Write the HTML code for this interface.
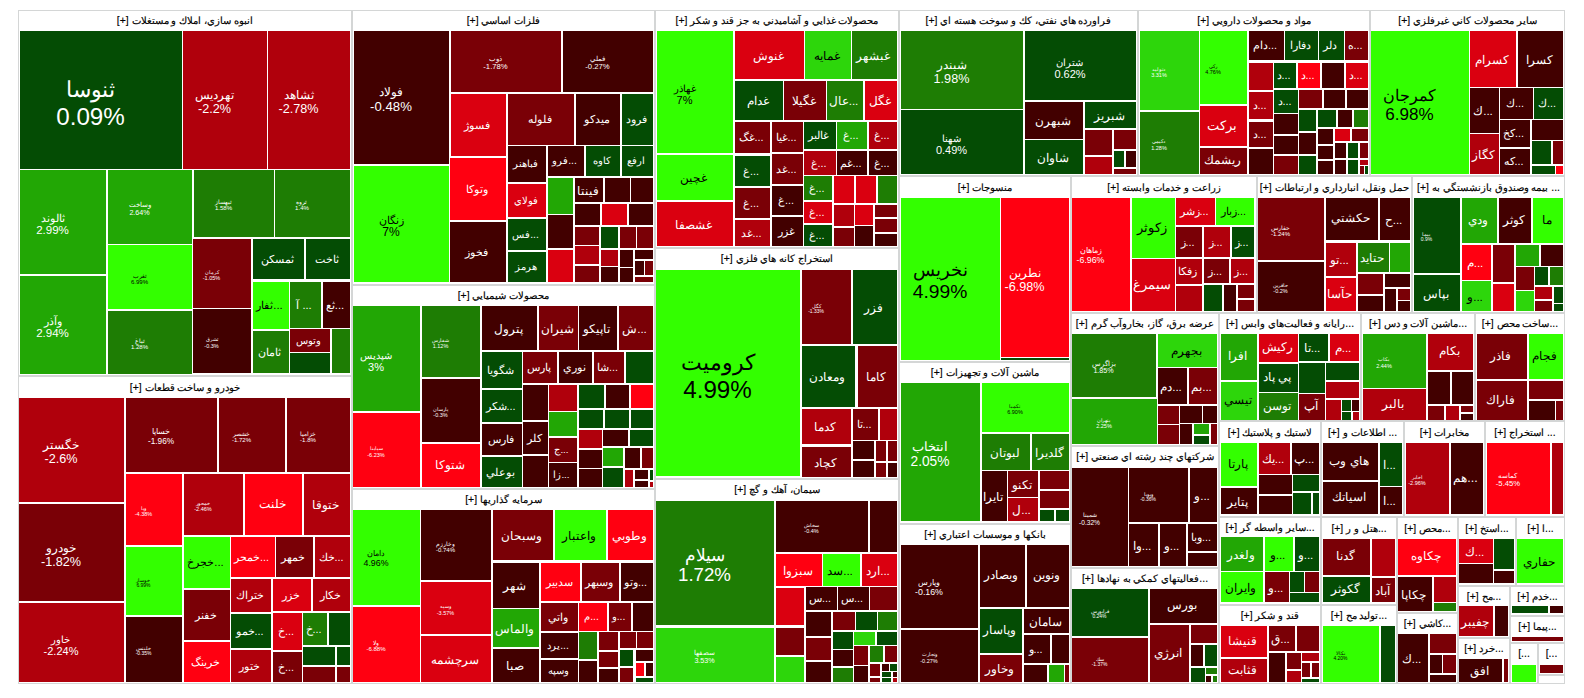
<!DOCTYPE html>
<html><head><meta charset="utf-8">
<style>
html,body{margin:0;padding:0;background:#fff;width:1584px;height:698px;overflow:hidden;}
body{position:relative;font-family:"Liberation Sans",sans-serif;}
.s{position:absolute;box-sizing:border-box;border:1px solid #d4d6d6;background:#fff;}
.h{position:absolute;left:0;right:0;top:0;display:flex;align-items:center;justify-content:center;white-space:nowrap;color:#000;-webkit-text-stroke:0.15px #000;padding-bottom:2px;box-sizing:border-box;font-size:10.4px;overflow:hidden;}
.t{position:absolute;overflow:hidden;display:flex;align-items:center;justify-content:center;color:#fff;}
.l{white-space:nowrap;text-align:center;line-height:1.12;}
.k{color:#000;}
</style></head><body>

<div class="s" style="left:18px;top:10px;width:334px;height:366px"><div class="h" style="height:20px">[+] انبوه سازي، املاك و مستغلات</div></div>
<div class="s" style="left:18px;top:376px;width:334px;height:308px"><div class="h" style="height:21px">[+] خودرو و ساخت قطعات</div></div>
<div class="s" style="left:352px;top:10px;width:303px;height:275px"><div class="h" style="height:20px">[+] فلزات اساسي</div></div>
<div class="s" style="left:352px;top:285px;width:303px;height:204px"><div class="h" style="height:20px">[+] محصولات شيميايي</div></div>
<div class="s" style="left:352px;top:489px;width:303px;height:195px"><div class="h" style="height:20px">[+] سرمايه گذاريها</div></div>
<div class="s" style="left:655px;top:10px;width:244px;height:238px"><div class="h" style="height:20px">[+] محصولات غذايي و آشاميدني به جز قند و شكر</div></div>
<div class="s" style="left:655px;top:248px;width:244px;height:231px"><div class="h" style="height:20px">[+] استخراج كانه هاي فلزي</div></div>
<div class="s" style="left:655px;top:479px;width:244px;height:205px"><div class="h" style="height:20px">[+] سيمان، آهك و گچ</div></div>
<div class="s" style="left:899px;top:10px;width:239px;height:166px"><div class="h" style="height:20px">[+] فراورده هاي نفتي، كك و سوخت هسته اي</div></div>
<div class="s" style="left:1138px;top:10px;width:232px;height:166px"><div class="h" style="height:20px">[+] مواد و محصولات دارويي</div></div>
<div class="s" style="left:1370px;top:10px;width:195px;height:166px"><div class="h" style="height:20px">[+] ساير محصولات كاني غيرفلزي</div></div>
<div class="s" style="left:899px;top:176px;width:172px;height:186px"><div class="h" style="height:21px">[+] منسوجات</div></div>
<div class="s" style="left:1071px;top:176px;width:186px;height:137px"><div class="h" style="height:21px">[+] زراعت و خدمات وابسته</div></div>
<div class="s" style="left:1257px;top:176px;width:155px;height:137px"><div class="h" style="height:21px">[+] حمل ونقل، انبارداري و ارتباطات</div></div>
<div class="s" style="left:1412px;top:176px;width:153px;height:137px"><div class="h" style="height:21px">[+] بيمه وصندوق بازنشستگي به ...</div></div>
<div class="s" style="left:899px;top:362px;width:172px;height:162px"><div class="h" style="height:20px">[+] ماشين آلات و تجهيزات</div></div>
<div class="s" style="left:899px;top:524px;width:172px;height:160px"><div class="h" style="height:20px">[+] بانكها و موسسات اعتباري</div></div>
<div class="s" style="left:1071px;top:313px;width:148px;height:133px"><div class="h" style="height:20px">[+] عرضه برق، گاز، بخاروآب گرم</div></div>
<div class="s" style="left:1071px;top:446px;width:148px;height:122px"><div class="h" style="height:20px">[+] شركتهاي چند رشته اي صنعتي</div></div>
<div class="s" style="left:1071px;top:568px;width:148px;height:116px"><div class="h" style="height:20px">[+] فعاليتهاي كمكي به نهادها...</div></div>
<div class="s" style="left:1219px;top:313px;width:142px;height:108px"><div class="h" style="height:20px">[+] رايانه و فعاليت‌هاي وابس...</div></div>
<div class="s" style="left:1361px;top:313px;width:114px;height:108px"><div class="h" style="height:20px">[+] ماشين آلات و دس...</div></div>
<div class="s" style="left:1475px;top:313px;width:90px;height:108px"><div class="h" style="height:20px">[+] ساخت محص...</div></div>
<div class="s" style="left:1219px;top:421px;width:102px;height:96px"><div class="h" style="height:21px">[+] لاستيك و پلاستيك</div></div>
<div class="s" style="left:1321px;top:421px;width:83px;height:96px"><div class="h" style="height:21px">[+] اطلاعات و ...</div></div>
<div class="s" style="left:1404px;top:421px;width:81px;height:96px"><div class="h" style="height:21px">[+] مخابرات</div></div>
<div class="s" style="left:1485px;top:421px;width:80px;height:96px"><div class="h" style="height:21px">[+] استخراج ...</div></div>
<div class="s" style="left:1219px;top:517px;width:102px;height:88px"><div class="h" style="height:19px">[+] ساير واسطه گر...</div></div>
<div class="s" style="left:1321px;top:517px;width:76px;height:88px"><div class="h" style="height:21px">[+] هتل و ر...</div></div>
<div class="s" style="left:1219px;top:605px;width:102px;height:79px"><div class="h" style="height:19px">[+] قند و شكر</div></div>
<div class="s" style="left:1321px;top:605px;width:76px;height:79px"><div class="h" style="height:20px">[+] توليد مح...</div></div>
<div class="s" style="left:1397px;top:517px;width:61px;height:96px"><div class="h" style="height:21px">[+] محص...</div></div>
<div class="s" style="left:1397px;top:613px;width:61px;height:71px"><div class="h" style="height:20px">[+] كاشي...</div></div>
<div class="s" style="left:1458px;top:517px;width:58px;height:69px"><div class="h" style="height:21px">[+] استخ...</div></div>
<div class="s" style="left:1516px;top:517px;width:49px;height:69px"><div class="h" style="height:21px">[+] ا...</div></div>
<div class="s" style="left:1458px;top:586px;width:52px;height:52px"><div class="h" style="height:19px">[+] مح...</div></div>
<div class="s" style="left:1510px;top:586px;width:55px;height:30px"><div class="h" style="height:19px">[+] خدم...</div></div>
<div class="s" style="left:1510px;top:616px;width:55px;height:27px"><div class="h" style="height:20px">[+] پيما...</div></div>
<div class="s" style="left:1458px;top:638px;width:52px;height:46px"><div class="h" style="height:20px">[+] خرد...</div></div>
<div class="s" style="left:1510px;top:643px;width:28px;height:41px"><div class="h" style="height:20px">[...</div></div>
<div class="s" style="left:1538px;top:643px;width:27px;height:32px"><div class="h" style="height:20px">[...</div></div>
<div class="s" style="left:1538px;top:675px;width:27px;height:9px"><div class="h" style="height:7px"></div></div>
<div class="t" style="left:20px;top:31px;width:162px;height:138px;background:#044c04"><div class="l" style="font-size:22px;transform:translate(-10.5px,3.7px)"><div>ثنوسا</div><div style="font-size:24.2px">0.09%</div></div></div>
<div class="t" style="left:183px;top:31px;width:84px;height:138px;background:#b0000c"><div class="l" style="font-size:11.5px;transform:translate(-10.5px,2.65px)"><div>تهرديس</div><div style="font-size:12.65px">-2.2%</div></div></div>
<div class="t" style="left:268px;top:31px;width:82px;height:138px;background:#b0000c"><div class="l" style="font-size:11.5px;transform:translate(-10.5px,2.65px)"><div>ثشاهد</div><div style="font-size:12.65px">-2.78%</div></div></div>
<div class="t" style="left:20px;top:170px;width:86px;height:104px;background:#22a705"><div class="l" style="font-size:10.5px;transform:translate(-10.5px,2.55px)"><div>ثالوند</div><div style="font-size:11.55px">2.99%</div></div></div>
<div class="t" style="left:20px;top:276px;width:86px;height:98px;background:#22a705"><div class="l" style="font-size:10.5px;transform:translate(-10.5px,2.55px)"><div>وآذر</div><div style="font-size:11.55px">2.94%</div></div></div>
<div class="t" style="left:108px;top:170px;width:84px;height:74px;background:#22a705"><div class="l" style="font-size:6.5px;transform:translate(-10.5px,2.15px)"><div>وساخت</div><div style="font-size:7.15px">2.64%</div></div></div>
<div class="t k" style="left:108px;top:245px;width:84px;height:64px;background:#33ff00"><div class="l" style="font-size:5.5px;transform:translate(-10.5px,2.05px)"><div>ثغرب</div><div style="font-size:6.05px">6.99%</div></div></div>
<div class="t" style="left:108px;top:311px;width:84px;height:63px;background:#1e7d04"><div class="l" style="font-size:5.5px;transform:translate(-10.5px,2.05px)"><div>ثباغ</div><div style="font-size:6.05px">1.28%</div></div></div>
<div class="t" style="left:194px;top:170px;width:80px;height:67px;background:#1e7d04"><div class="l" style="font-size:5.5px;transform:translate(-10.5px,2.05px)"><div>ثبهساز</div><div style="font-size:6.05px">1.58%</div></div></div>
<div class="t" style="left:275px;top:170px;width:75px;height:67px;background:#1e7d04"><div class="l" style="font-size:5.5px;transform:translate(-10.5px,2.05px)"><div>ثروه</div><div style="font-size:6.05px">1.4%</div></div></div>
<div class="t" style="left:193px;top:239px;width:58px;height:69px;background:#7a0006"><div class="l" style="font-size:5px;transform:translate(-10.5px,2.0px)"><div>كرمان</div><div style="font-size:5.5px">-1.05%</div></div></div>
<div class="t" style="left:193px;top:309px;width:58px;height:64px;background:#420000"><div class="l" style="font-size:5px;transform:translate(-10.5px,2.0px)"><div>ثشرق</div><div style="font-size:5.5px">-0.3%</div></div></div>
<div class="t" style="left:253px;top:239px;width:51px;height:40px;background:#044c04"><div class="l" style="font-size:11.18px;transform:translateX(-1.5px)">ثمسكن</div></div>
<div class="t" style="left:306px;top:239px;width:44px;height:40px;background:#044c04"><div class="l" style="font-size:11.18px;transform:translateX(-1.5px)">ثاخت</div></div>
<div class="t k" style="left:253px;top:282px;width:36px;height:47px;background:#33ff00"><div class="l" style="font-size:11.18px;transform:translateX(-1.5px)">ثفار...</div></div>
<div class="t" style="left:290px;top:282px;width:31px;height:46px;background:#1e7d04"><div class="l" style="font-size:11.18px;transform:translateX(-1.5px)">آ ...</div></div>
<div class="t" style="left:323px;top:282px;width:27px;height:46px;background:#420000"><div class="l" style="font-size:11.18px;transform:translateX(-1.5px)">ثع...</div></div>
<div class="t" style="left:253px;top:331px;width:36px;height:42px;background:#1e7d04"><div class="l" style="font-size:11.18px;transform:translateX(-1.5px)">ثامان</div></div>
<div class="t" style="left:290px;top:329px;width:40px;height:23px;background:#7a0006"><div class="l" style="font-size:10.32px;transform:translateX(-1.5px)">وتوس</div></div>
<div class="t" style="left:290px;top:353px;width:40px;height:20px;background:#044c04"></div>
<div class="t" style="left:332px;top:329px;width:18px;height:44px;background:#1e7d04"></div>
<div class="t" style="left:19px;top:398px;width:105px;height:104px;background:#b0000c"><div class="l" style="font-size:11.5px;transform:translate(-10.5px,2.65px)"><div>خگستر</div><div style="font-size:12.65px">-2.6%</div></div></div>
<div class="t" style="left:19px;top:504px;width:105px;height:97px;background:#7a0006"><div class="l" style="font-size:11.5px;transform:translate(-10.5px,2.65px)"><div>خودرو</div><div style="font-size:12.65px">-1.82%</div></div></div>
<div class="t" style="left:19px;top:603px;width:105px;height:79px;background:#b0000c"><div class="l" style="font-size:10px;transform:translate(-10.5px,2.5px)"><div>خاور</div><div style="font-size:11.0px">-2.24%</div></div></div>
<div class="t" style="left:126px;top:398px;width:91px;height:74px;background:#7a0006"><div class="l" style="font-size:7.5px;transform:translate(-10.5px,2.25px)"><div>خساپا</div><div style="font-size:8.25px">-1.96%</div></div></div>
<div class="t" style="left:219px;top:398px;width:66px;height:74px;background:#7a0006"><div class="l" style="font-size:5.5px;transform:translate(-10.5px,2.05px)"><div>خشصر</div><div style="font-size:6.05px">-1.72%</div></div></div>
<div class="t" style="left:287px;top:398px;width:63px;height:74px;background:#7a0006"><div class="l" style="font-size:5.5px;transform:translate(-10.5px,2.05px)"><div>خزاميا</div><div style="font-size:6.05px">-1.8%</div></div></div>
<div class="t" style="left:126px;top:474px;width:56px;height:71px;background:#ff0011"><div class="l" style="font-size:5px;transform:translate(-10.5px,2.0px)"><div>ويا</div><div style="font-size:5.5px">-4.38%</div></div></div>
<div class="t k" style="left:126px;top:547px;width:56px;height:68px;background:#33ff00"><div class="l" style="font-size:4.5px;transform:translate(-10.5px,1.95px)"><div>خوساز</div><div style="font-size:4.95px">6.99%</div></div></div>
<div class="t" style="left:126px;top:617px;width:56px;height:65px;background:#420000"><div class="l" style="font-size:4.5px;transform:translate(-10.5px,1.95px)"><div>خلنتس</div><div style="font-size:4.95px">-0.35%</div></div></div>
<div class="t" style="left:184px;top:474px;width:59px;height:61px;background:#b0000c"><div class="l" style="font-size:5px;transform:translate(-10.5px,2.0px)"><div>خمحور</div><div style="font-size:5.5px">-2.46%</div></div></div>
<div class="t" style="left:245px;top:474px;width:57px;height:61px;background:#ff0011"><div class="l" style="font-size:12.04px;transform:translateX(-1.5px)">خلنت</div></div>
<div class="t" style="left:304px;top:474px;width:46px;height:61px;background:#b0000c"><div class="l" style="font-size:11.61px;transform:translateX(-1.5px)">ختوقا</div></div>
<div class="t k" style="left:184px;top:537px;width:46px;height:51px;background:#33ff00"><div class="l" style="font-size:11.18px;transform:translateX(-1.5px)">خجرخ...</div></div>
<div class="t" style="left:184px;top:590px;width:46px;height:50px;background:#7a0006"><div class="l" style="font-size:11.18px;transform:translateX(-1.5px)">خفنر</div></div>
<div class="t" style="left:184px;top:642px;width:46px;height:40px;background:#ff0011"><div class="l" style="font-size:11.18px;transform:translateX(-1.5px)">خرينگ</div></div>
<div class="t" style="left:231px;top:537px;width:44px;height:40px;background:#ff0011"><div class="l" style="font-size:10.75px;transform:translateX(-1.5px)">خمحر...</div></div>
<div class="t" style="left:276px;top:537px;width:37px;height:40px;background:#7a0006"><div class="l" style="font-size:10.75px;transform:translateX(-1.5px)">خمهر</div></div>
<div class="t" style="left:315px;top:537px;width:35px;height:40px;background:#b0000c"><div class="l" style="font-size:10.75px;transform:translateX(-1.5px)">خك...</div></div>
<div class="t" style="left:231px;top:579px;width:40px;height:33px;background:#b0000c"><div class="l" style="font-size:10.75px;transform:translateX(-1.5px)">ختراك</div></div>
<div class="t" style="left:273px;top:579px;width:38px;height:32px;background:#da0010"><div class="l" style="font-size:10.75px;transform:translateX(-1.5px)">خزر</div></div>
<div class="t" style="left:313px;top:579px;width:37px;height:32px;background:#b0000c"><div class="l" style="font-size:10.75px;transform:translateX(-1.5px)">خكار</div></div>
<div class="t" style="left:231px;top:614px;width:40px;height:34px;background:#044c04"><div class="l" style="font-size:10.75px;transform:translateX(-1.5px)">خمو...</div></div>
<div class="t" style="left:231px;top:650px;width:40px;height:32px;background:#b0000c"><div class="l" style="font-size:10.75px;transform:translateX(-1.5px)">ختور</div></div>
<div class="t" style="left:273px;top:613px;width:29px;height:37px;background:#da0010"><div class="l" style="font-size:10.75px;transform:translateX(-1.5px)">خ...</div></div>
<div class="t" style="left:273px;top:652px;width:29px;height:30px;background:#7a0006"><div class="l" style="font-size:10.75px;transform:translateX(-1.5px)">خ...</div></div>
<div class="t" style="left:303px;top:613px;width:24px;height:32px;background:#1e7d04"><div class="l" style="font-size:10.75px;transform:translateX(-1.5px)">خ...</div></div>
<div class="t" style="left:329px;top:613px;width:21px;height:32px;background:#044c04"></div>
<div class="t" style="left:303px;top:647px;width:32px;height:18px;background:#044c04"></div>
<div class="t" style="left:337px;top:647px;width:13px;height:18px;background:#044c04"></div>
<div class="t" style="left:303px;top:667px;width:32px;height:15px;background:#7a0006"></div>
<div class="t" style="left:337px;top:667px;width:13px;height:15px;background:#7a0006"></div>
<div class="t" style="left:354px;top:31px;width:95px;height:133px;background:#420000"><div class="l" style="font-size:12px;transform:translate(-10.5px,2.7px)"><div>فولاد</div><div style="font-size:13.2px">-0.48%</div></div></div>
<div class="t" style="left:451px;top:31px;width:110px;height:61px;background:#7a0006"><div class="l" style="font-size:7px;transform:translate(-10.5px,2.2px)"><div>ذوب</div><div style="font-size:7.7px">-1.78%</div></div></div>
<div class="t" style="left:563px;top:31px;width:90px;height:61px;background:#420000"><div class="l" style="font-size:7px;transform:translate(-10.5px,2.2px)"><div>فملي</div><div style="font-size:7.7px">-0.27%</div></div></div>
<div class="t" style="left:451px;top:94px;width:55px;height:62px;background:#da0010"><div class="l" style="font-size:11.18px;transform:translateX(-1.5px)">فسوژ</div></div>
<div class="t" style="left:508px;top:94px;width:66px;height:51px;background:#7a0006"><div class="l" style="font-size:11.18px;transform:translateX(-1.5px)">فلوله</div></div>
<div class="t" style="left:576px;top:94px;width:44px;height:51px;background:#420000"><div class="l" style="font-size:11.18px;transform:translateX(-1.5px)">ميدكو</div></div>
<div class="t" style="left:622px;top:94px;width:31px;height:51px;background:#044c04"><div class="l" style="font-size:11.18px;transform:translateX(-1.5px)">فرود</div></div>
<div class="t" style="left:508px;top:146px;width:38px;height:36px;background:#420000"><div class="l" style="font-size:10.32px;transform:translateX(-1.5px)">فباهنر</div></div>
<div class="t" style="left:548px;top:146px;width:36px;height:30px;background:#420000"><div class="l" style="font-size:10.32px;transform:translateX(-1.5px)">فرو...</div></div>
<div class="t" style="left:586px;top:146px;width:34px;height:30px;background:#044c04"><div class="l" style="font-size:10.32px;transform:translateX(-1.5px)">كاوه</div></div>
<div class="t" style="left:622px;top:146px;width:31px;height:30px;background:#044c04"><div class="l" style="font-size:10.32px;transform:translateX(-1.5px)">ارفع</div></div>
<div class="t k" style="left:354px;top:166px;width:95px;height:116px;background:#33ff00"><div class="l" style="font-size:11px;transform:translate(-10.5px,2.6px)"><div>زنگان</div><div style="font-size:12.1px">7%</div></div></div>
<div class="t" style="left:450px;top:158px;width:56px;height:62px;background:#ff0011"><div class="l" style="font-size:11.18px;transform:translateX(-1.5px)">وتوكا</div></div>
<div class="t" style="left:450px;top:222px;width:56px;height:60px;background:#420000"><div class="l" style="font-size:11.18px;transform:translateX(-1.5px)">فخوز</div></div>
<div class="t" style="left:508px;top:184px;width:38px;height:33px;background:#da0010"><div class="l" style="font-size:10.32px;transform:translateX(-1.5px)">فولاي</div></div>
<div class="t" style="left:508px;top:219px;width:38px;height:31px;background:#044c04"><div class="l" style="font-size:10.32px;transform:translateX(-1.5px)">فس...</div></div>
<div class="t" style="left:508px;top:252px;width:38px;height:30px;background:#044c04"><div class="l" style="font-size:10.32px;transform:translateX(-1.5px)">هرمز</div></div>
<div class="t" style="left:548px;top:178px;width:25px;height:36px;background:#22a705"></div>
<div class="t" style="left:548px;top:215px;width:25px;height:33px;background:#420000"></div>
<div class="t" style="left:548px;top:250px;width:25px;height:32px;background:#da0010"></div>
<div class="t" style="left:575px;top:178px;width:28px;height:24px;background:#420000"><div class="l" style="font-size:11.61px;transform:translateX(-1.5px)">فينتا</div></div>
<div class="t" style="left:605px;top:178px;width:25px;height:24px;background:#420000"></div>
<div class="t" style="left:631px;top:178px;width:22px;height:24px;background:#420000"></div>
<div class="t" style="left:575px;top:204px;width:25px;height:21px;background:#420000"></div>
<div class="t" style="left:602px;top:204px;width:25px;height:21px;background:#da0010"></div>
<div class="t" style="left:629px;top:204px;width:24px;height:21px;background:#420000"></div>
<div class="t" style="left:575px;top:227px;width:24px;height:18px;background:#7a0006"></div>
<div class="t" style="left:601px;top:227px;width:17px;height:21px;background:#044c04"></div>
<div class="t" style="left:620px;top:227px;width:16px;height:21px;background:#7a0006"></div>
<div class="t" style="left:637px;top:227px;width:16px;height:21px;background:#7a0006"></div>
<div class="t" style="left:575px;top:246px;width:24px;height:18px;background:#b0000c"></div>
<div class="t" style="left:575px;top:266px;width:24px;height:16px;background:#7a0006"></div>
<div class="t" style="left:601px;top:250px;width:17px;height:16px;background:#b0000c"></div>
<div class="t" style="left:601px;top:267px;width:17px;height:15px;background:#420000"></div>
<div class="t" style="left:620px;top:250px;width:13px;height:17px;background:#420000"></div>
<div class="t" style="left:620px;top:268px;width:13px;height:14px;background:#420000"></div>
<div class="t" style="left:635px;top:250px;width:18px;height:9px;background:#420000"></div>
<div class="t" style="left:635px;top:261px;width:9px;height:14px;background:#420000"></div>
<div class="t" style="left:645px;top:261px;width:8px;height:14px;background:#7a0006"></div>
<div class="t" style="left:635px;top:277px;width:18px;height:5px;background:#7a0006"></div>
<div class="t" style="left:353px;top:306px;width:67px;height:105px;background:#22a705"><div class="l" style="font-size:10px;transform:translate(-10.5px,2.5px)"><div>شپديس</div><div style="font-size:11.0px">3%</div></div></div>
<div class="t" style="left:353px;top:413px;width:67px;height:74px;background:#ff0011"><div class="l" style="font-size:5px;transform:translate(-10.5px,2.0px)"><div>سپاينا</div><div style="font-size:5.5px">-6.23%</div></div></div>
<div class="t" style="left:422px;top:306px;width:58px;height:71px;background:#1e7d04"><div class="l" style="font-size:5px;transform:translate(-10.5px,2.0px)"><div>شفارس</div><div style="font-size:5.5px">1.12%</div></div></div>
<div class="t" style="left:422px;top:379px;width:58px;height:63px;background:#420000"><div class="l" style="font-size:5px;transform:translate(-10.5px,2.0px)"><div>پارسان</div><div style="font-size:5.5px">-0.3%</div></div></div>
<div class="t" style="left:422px;top:444px;width:58px;height:43px;background:#ff0011"><div class="l" style="font-size:12.04px;transform:translateX(-1.5px)">شتوكا</div></div>
<div class="t" style="left:482px;top:306px;width:55px;height:44px;background:#420000"><div class="l" style="font-size:11.61px;transform:translateX(-1.5px)">پترول</div></div>
<div class="t" style="left:539px;top:306px;width:39px;height:44px;background:#7a0006"><div class="l" style="font-size:11.61px;transform:translateX(-1.5px)">شيران</div></div>
<div class="t" style="left:579px;top:306px;width:38px;height:44px;background:#420000"><div class="l" style="font-size:11.61px;transform:translateX(-1.5px)">تاپيكو</div></div>
<div class="t" style="left:619px;top:306px;width:34px;height:44px;background:#7a0006"><div class="l" style="font-size:11.61px;transform:translateX(-1.5px)">ش...</div></div>
<div class="t" style="left:482px;top:352px;width:40px;height:36px;background:#044c04"><div class="l" style="font-size:11.18px;transform:translateX(-1.5px)">شگويا</div></div>
<div class="t" style="left:523px;top:352px;width:34px;height:31px;background:#7a0006"><div class="l" style="font-size:10.75px;transform:translateX(-1.5px)">پارس</div></div>
<div class="t" style="left:559px;top:352px;width:33px;height:31px;background:#420000"><div class="l" style="font-size:10.75px;transform:translateX(-1.5px)">نوري</div></div>
<div class="t" style="left:594px;top:352px;width:30px;height:31px;background:#7a0006"><div class="l" style="font-size:10.75px;transform:translateX(-1.5px)">شا...</div></div>
<div class="t" style="left:626px;top:352px;width:27px;height:31px;background:#044c04"></div>
<div class="t" style="left:482px;top:390px;width:40px;height:32px;background:#044c04"><div class="l" style="font-size:10.75px;transform:translateX(-1.5px)">شكر...</div></div>
<div class="t" style="left:482px;top:424px;width:40px;height:31px;background:#420000"><div class="l" style="font-size:10.75px;transform:translateX(-1.5px)">فارس</div></div>
<div class="t" style="left:482px;top:457px;width:40px;height:30px;background:#044c04"><div class="l" style="font-size:10.75px;transform:translateX(-1.5px)">بوعلي</div></div>
<div class="t" style="left:523px;top:385px;width:25px;height:35px;background:#420000"></div>
<div class="t" style="left:523px;top:422px;width:25px;height:32px;background:#420000"><div class="l" style="font-size:10.75px;transform:translateX(-1.5px)">كلر</div></div>
<div class="t" style="left:523px;top:456px;width:25px;height:31px;background:#420000"></div>
<div class="t" style="left:549px;top:385px;width:28px;height:26px;background:#b0000c"></div>
<div class="t" style="left:549px;top:412px;width:28px;height:24px;background:#22a705"></div>
<div class="t" style="left:549px;top:438px;width:28px;height:24px;background:#7a0006"><div class="l" style="font-size:9.89px;transform:translateX(-1.5px)">ج...</div></div>
<div class="t" style="left:549px;top:463px;width:28px;height:24px;background:#420000"><div class="l" style="font-size:9.89px;transform:translateX(-1.5px)">زا...</div></div>
<div class="t" style="left:579px;top:385px;width:25px;height:23px;background:#044c04"></div>
<div class="t" style="left:606px;top:385px;width:23px;height:23px;background:#420000"></div>
<div class="t" style="left:631px;top:385px;width:22px;height:23px;background:#ff0011"></div>
<div class="t" style="left:579px;top:410px;width:24px;height:18px;background:#044c04"></div>
<div class="t" style="left:605px;top:410px;width:24px;height:18px;background:#044c04"></div>
<div class="t" style="left:631px;top:410px;width:22px;height:18px;background:#044c04"></div>
<div class="t" style="left:579px;top:430px;width:23px;height:18px;background:#b0000c"></div>
<div class="t" style="left:603px;top:430px;width:25px;height:16px;background:#420000"></div>
<div class="t" style="left:630px;top:430px;width:23px;height:16px;background:#044c04"></div>
<div class="t" style="left:579px;top:450px;width:23px;height:18px;background:#420000"></div>
<div class="t" style="left:579px;top:469px;width:23px;height:18px;background:#420000"></div>
<div class="t" style="left:603px;top:448px;width:20px;height:18px;background:#22a705"></div>
<div class="t" style="left:603px;top:468px;width:20px;height:19px;background:#044c04"></div>
<div class="t" style="left:625px;top:448px;width:15px;height:20px;background:#420000"></div>
<div class="t" style="left:642px;top:448px;width:11px;height:20px;background:#7a0006"></div>
<div class="t" style="left:625px;top:470px;width:8px;height:17px;background:#b0000c"></div>
<div class="t" style="left:635px;top:470px;width:13px;height:9px;background:#420000"></div>
<div class="t" style="left:635px;top:481px;width:13px;height:6px;background:#420000"></div>
<div class="t" style="left:650px;top:470px;width:3px;height:10px;background:#044c04"></div>
<div class="t" style="left:650px;top:482px;width:3px;height:5px;background:#b0000c"></div>
<div class="t k" style="left:353px;top:510px;width:67px;height:95px;background:#33ff00"><div class="l" style="font-size:8px;transform:translate(-10.5px,2.3px)"><div>دامان</div><div style="font-size:8.8px">4.96%</div></div></div>
<div class="t" style="left:353px;top:607px;width:67px;height:75px;background:#ff0011"><div class="l" style="font-size:5.5px;transform:translate(-10.5px,2.05px)"><div>ولا</div><div style="font-size:6.05px">-6.88%</div></div></div>
<div class="t" style="left:421px;top:510px;width:70px;height:70px;background:#420000"><div class="l" style="font-size:5.5px;transform:translate(-10.5px,2.05px)"><div>وخارزم</div><div style="font-size:6.05px">-0.74%</div></div></div>
<div class="t" style="left:421px;top:582px;width:70px;height:52px;background:#da0010"><div class="l" style="font-size:5px;transform:translate(-10.5px,2.0px)"><div>وسپه</div><div style="font-size:5.5px">-3.57%</div></div></div>
<div class="t" style="left:421px;top:636px;width:70px;height:46px;background:#da0010"><div class="l" style="font-size:11.61px;transform:translateX(-1.5px)">سرچشمه</div></div>
<div class="t" style="left:493px;top:510px;width:60px;height:50px;background:#7a0006"><div class="l" style="font-size:11.61px;transform:translateX(-1.5px)">وسبحان</div></div>
<div class="t k" style="left:555px;top:510px;width:51px;height:50px;background:#33ff00"><div class="l" style="font-size:11.61px;transform:translateX(-1.5px)">واعتبار</div></div>
<div class="t" style="left:608px;top:510px;width:45px;height:50px;background:#ff0011"><div class="l" style="font-size:11.61px;transform:translateX(-1.5px)">وطوبي</div></div>
<div class="t" style="left:493px;top:563px;width:46px;height:45px;background:#420000"><div class="l" style="font-size:11.61px;transform:translateX(-1.5px)">شهر</div></div>
<div class="t" style="left:493px;top:609px;width:46px;height:38px;background:#22a705"><div class="l" style="font-size:11.61px;transform:translateX(-1.5px)">والماس</div></div>
<div class="t" style="left:493px;top:649px;width:46px;height:33px;background:#420000"><div class="l" style="font-size:11.61px;transform:translateX(-1.5px)">صبا</div></div>
<div class="t" style="left:541px;top:563px;width:39px;height:38px;background:#ff0011"><div class="l" style="font-size:10.75px;transform:translateX(-1.5px)">سدبير</div></div>
<div class="t" style="left:582px;top:563px;width:37px;height:38px;background:#7a0006"><div class="l" style="font-size:10.75px;transform:translateX(-1.5px)">وسبهر</div></div>
<div class="t" style="left:621px;top:563px;width:32px;height:38px;background:#420000"><div class="l" style="font-size:10.75px;transform:translateX(-1.5px)">وتو...</div></div>
<div class="t" style="left:541px;top:603px;width:37px;height:28px;background:#7a0006"><div class="l" style="font-size:10.75px;transform:translateX(-1.5px)">واتي</div></div>
<div class="t" style="left:579px;top:603px;width:28px;height:28px;background:#ff0011"><div class="l" style="font-size:10.32px;transform:translateX(-1.5px)">م...</div></div>
<div class="t" style="left:609px;top:603px;width:22px;height:28px;background:#7a0006"><div class="l" style="font-size:10.32px;transform:translateX(-1.5px)">و...</div></div>
<div class="t" style="left:633px;top:603px;width:20px;height:28px;background:#420000"></div>
<div class="t" style="left:541px;top:633px;width:37px;height:25px;background:#420000"><div class="l" style="font-size:10.32px;transform:translateX(-1.5px)">يرد...</div></div>
<div class="t" style="left:541px;top:660px;width:37px;height:22px;background:#420000"><div class="l" style="font-size:10.32px;transform:translateX(-1.5px)">وسپه</div></div>
<div class="t" style="left:579px;top:632px;width:18px;height:27px;background:#1e7d04"></div>
<div class="t" style="left:579px;top:661px;width:18px;height:21px;background:#420000"></div>
<div class="t" style="left:599px;top:632px;width:19px;height:18px;background:#7a0006"></div>
<div class="t" style="left:599px;top:652px;width:19px;height:15px;background:#7a0006"></div>
<div class="t" style="left:599px;top:669px;width:19px;height:13px;background:#420000"></div>
<div class="t" style="left:620px;top:632px;width:16px;height:16px;background:#7a0006"></div>
<div class="t" style="left:620px;top:650px;width:13px;height:16px;background:#044c04"></div>
<div class="t" style="left:620px;top:668px;width:13px;height:14px;background:#7a0006"></div>
<div class="t" style="left:637px;top:632px;width:16px;height:16px;background:#7a0006"></div>
<div class="t" style="left:636px;top:650px;width:17px;height:11px;background:#420000"></div>
<div class="t" style="left:636px;top:663px;width:8px;height:13px;background:#ff0011"></div>
<div class="t" style="left:646px;top:663px;width:7px;height:13px;background:#420000"></div>
<div class="t" style="left:636px;top:678px;width:17px;height:4px;background:#044c04"></div>
<div class="t k" style="left:657px;top:31px;width:76px;height:122px;background:#33ff00"><div class="l" style="font-size:10px;transform:translate(-10.5px,2.5px)"><div>غهاذر</div><div style="font-size:11.0px">7%</div></div></div>
<div class="t k" style="left:657px;top:155px;width:76px;height:45px;background:#33ff00"><div class="l" style="font-size:11.61px;transform:translateX(-1.5px)">غچين</div></div>
<div class="t" style="left:657px;top:202px;width:76px;height:44px;background:#da0010"><div class="l" style="font-size:11.61px;transform:translateX(-1.5px)">غشصفا</div></div>
<div class="t" style="left:735px;top:31px;width:69px;height:48px;background:#da0010"><div class="l" style="font-size:11.61px;transform:translateX(-1.5px)">غنوش</div></div>
<div class="t k" style="left:805px;top:31px;width:46px;height:48px;background:#2dd60b"><div class="l" style="font-size:11.61px;transform:translateX(-1.5px)">غمايه</div></div>
<div class="t" style="left:852px;top:31px;width:45px;height:48px;background:#1e7d04"><div class="l" style="font-size:11.61px;transform:translateX(-1.5px)">غبشهر</div></div>
<div class="t" style="left:735px;top:81px;width:48px;height:39px;background:#044c04"><div class="l" style="font-size:11.61px;transform:translateX(-1.5px)">غدام</div></div>
<div class="t" style="left:784px;top:81px;width:42px;height:39px;background:#7a0006"><div class="l" style="font-size:11.61px;transform:translateX(-1.5px)">غگيلا</div></div>
<div class="t" style="left:827px;top:81px;width:36px;height:39px;background:#1e7d04"><div class="l" style="font-size:11.61px;transform:translateX(-1.5px)">عال...</div></div>
<div class="t" style="left:865px;top:81px;width:32px;height:39px;background:#da0010"><div class="l" style="font-size:11.61px;transform:translateX(-1.5px)">غگل</div></div>
<div class="t" style="left:735px;top:122px;width:35px;height:31px;background:#7a0006"><div class="l" style="font-size:10.75px;transform:translateX(-1.5px)">غگ...</div></div>
<div class="t" style="left:735px;top:156px;width:35px;height:30px;background:#044c04"><div class="l" style="font-size:10.75px;transform:translateX(-1.5px)">غ...</div></div>
<div class="t" style="left:735px;top:188px;width:35px;height:30px;background:#7a0006"><div class="l" style="font-size:10.75px;transform:translateX(-1.5px)">غ...</div></div>
<div class="t" style="left:735px;top:220px;width:35px;height:26px;background:#b0000c"><div class="l" style="font-size:10.75px;transform:translateX(-1.5px)">غد...</div></div>
<div class="t" style="left:772px;top:122px;width:31px;height:30px;background:#7a0006"><div class="l" style="font-size:10.75px;transform:translateX(-1.5px)">غيا...</div></div>
<div class="t" style="left:772px;top:154px;width:31px;height:30px;background:#7a0006"><div class="l" style="font-size:10.75px;transform:translateX(-1.5px)">غد...</div></div>
<div class="t" style="left:772px;top:186px;width:31px;height:29px;background:#420000"><div class="l" style="font-size:10.75px;transform:translateX(-1.5px)">غ...</div></div>
<div class="t" style="left:772px;top:217px;width:31px;height:29px;background:#420000"><div class="l" style="font-size:10.75px;transform:translateX(-1.5px)">غزر</div></div>
<div class="t" style="left:804px;top:122px;width:32px;height:27px;background:#044c04"><div class="l" style="font-size:10.75px;transform:translateX(-1.5px)">غالبر</div></div>
<div class="t" style="left:837px;top:122px;width:30px;height:27px;background:#22a705"><div class="l" style="font-size:10.75px;transform:translateX(-1.5px)">غ...</div></div>
<div class="t" style="left:869px;top:122px;width:28px;height:27px;background:#b0000c"><div class="l" style="font-size:10.75px;transform:translateX(-1.5px)">غ...</div></div>
<div class="t" style="left:804px;top:151px;width:32px;height:24px;background:#b0000c"><div class="l" style="font-size:10.75px;transform:translateX(-1.5px)">غ...</div></div>
<div class="t" style="left:837px;top:151px;width:30px;height:24px;background:#420000"><div class="l" style="font-size:10.75px;transform:translateX(-1.5px)">غم...</div></div>
<div class="t" style="left:869px;top:151px;width:28px;height:24px;background:#420000"><div class="l" style="font-size:10.75px;transform:translateX(-1.5px)">غ...</div></div>
<div class="t" style="left:804px;top:176px;width:28px;height:24px;background:#1e7d04"><div class="l" style="font-size:10.75px;transform:translateX(-1.5px)">غ...</div></div>
<div class="t" style="left:804px;top:202px;width:28px;height:21px;background:#da0010"><div class="l" style="font-size:10.75px;transform:translateX(-1.5px)">غ...</div></div>
<div class="t" style="left:804px;top:225px;width:28px;height:21px;background:#044c04"><div class="l" style="font-size:10.75px;transform:translateX(-1.5px)">غ...</div></div>
<div class="t" style="left:834px;top:176px;width:20px;height:27px;background:#da0010"></div>
<div class="t" style="left:856px;top:176px;width:20px;height:27px;background:#da0010"></div>
<div class="t" style="left:878px;top:176px;width:19px;height:27px;background:#1e7d04"></div>
<div class="t" style="left:834px;top:205px;width:20px;height:21px;background:#b0000c"></div>
<div class="t" style="left:855px;top:205px;width:18px;height:20px;background:#da0010"></div>
<div class="t" style="left:875px;top:205px;width:22px;height:12px;background:#7a0006"></div>
<div class="t" style="left:875px;top:219px;width:22px;height:13px;background:#7a0006"></div>
<div class="t" style="left:875px;top:234px;width:22px;height:12px;background:#420000"></div>
<div class="t" style="left:834px;top:228px;width:20px;height:18px;background:#7a0006"></div>
<div class="t" style="left:855px;top:226px;width:18px;height:20px;background:#420000"></div>
<div class="t k" style="left:656px;top:270px;width:144px;height:206px;background:#33ff00"><div class="l" style="font-size:22px;transform:translate(-10.5px,3.7px)"><div>كروميت</div><div style="font-size:24.2px">4.99%</div></div></div>
<div class="t" style="left:802px;top:270px;width:49px;height:74px;background:#7a0006"><div class="l" style="font-size:4.5px;transform:translate(-10.5px,1.95px)"><div>كگل</div><div style="font-size:4.95px">-1.33%</div></div></div>
<div class="t" style="left:853px;top:270px;width:44px;height:74px;background:#044c04"><div class="l" style="font-size:11.61px;transform:translateX(-1.5px)">فزر</div></div>
<div class="t" style="left:802px;top:346px;width:53px;height:61px;background:#044c04"><div class="l" style="font-size:11.61px;transform:translateX(-1.5px)">ومعادن</div></div>
<div class="t" style="left:858px;top:346px;width:39px;height:61px;background:#7a0006"><div class="l" style="font-size:11.61px;transform:translateX(-1.5px)">كاما</div></div>
<div class="t" style="left:802px;top:409px;width:49px;height:35px;background:#b0000c"><div class="l" style="font-size:11.61px;transform:translateX(-1.5px)">كدما</div></div>
<div class="t" style="left:802px;top:447px;width:49px;height:30px;background:#7a0006"><div class="l" style="font-size:11.61px;transform:translateX(-1.5px)">كچاد</div></div>
<div class="t" style="left:853px;top:409px;width:25px;height:31px;background:#7a0006"><div class="l" style="font-size:10.75px;transform:translateX(-1.5px)">تا...</div></div>
<div class="t" style="left:880px;top:409px;width:17px;height:31px;background:#b0000c"></div>
<div class="t" style="left:853px;top:441px;width:21px;height:18px;background:#420000"></div>
<div class="t" style="left:853px;top:461px;width:21px;height:16px;background:#420000"></div>
<div class="t" style="left:876px;top:441px;width:10px;height:20px;background:#7a0006"></div>
<div class="t" style="left:888px;top:441px;width:9px;height:20px;background:#7a0006"></div>
<div class="t" style="left:876px;top:463px;width:10px;height:14px;background:#7a0006"></div>
<div class="t" style="left:888px;top:463px;width:9px;height:14px;background:#420000"></div>
<div class="t" style="left:656px;top:501px;width:118px;height:124px;background:#1e7d04"><div class="l" style="font-size:17px;transform:translate(-10.5px,3.2px)"><div>سيلام</div><div style="font-size:18.7px">1.72%</div></div></div>
<div class="t" style="left:656px;top:628px;width:118px;height:54px;background:#2dd60b"><div class="l" style="font-size:6.5px;transform:translate(-10.5px,2.15px)"><div>سصفها</div><div style="font-size:7.15px">3.53%</div></div></div>
<div class="t" style="left:776px;top:501px;width:92px;height:51px;background:#420000"><div class="l" style="font-size:5px;transform:translate(-10.5px,2.0px)"><div>سخاش</div><div style="font-size:5.5px">-0.4%</div></div></div>
<div class="t" style="left:870px;top:501px;width:27px;height:51px;background:#420000"></div>
<div class="t" style="left:776px;top:554px;width:46px;height:32px;background:#ff0011"><div class="l" style="font-size:11.61px;transform:translateX(-1.5px)">سبزوا</div></div>
<div class="t k" style="left:823px;top:554px;width:37px;height:32px;background:#33ff00"><div class="l" style="font-size:11.61px;transform:translateX(-1.5px)">سد...</div></div>
<div class="t" style="left:862px;top:554px;width:35px;height:32px;background:#da0010"><div class="l" style="font-size:11.61px;transform:translateX(-1.5px)">ارد...</div></div>
<div class="t" style="left:776px;top:588px;width:28px;height:37px;background:#da0010"></div>
<div class="t" style="left:776px;top:628px;width:28px;height:27px;background:#7a0006"></div>
<div class="t" style="left:776px;top:657px;width:28px;height:25px;background:#2dd60b"></div>
<div class="t" style="left:806px;top:587px;width:31px;height:23px;background:#420000"><div class="l" style="font-size:10.75px;transform:translateX(-1.5px)">س...</div></div>
<div class="t" style="left:838px;top:587px;width:31px;height:23px;background:#420000"><div class="l" style="font-size:10.75px;transform:translateX(-1.5px)">س...</div></div>
<div class="t" style="left:870px;top:587px;width:27px;height:23px;background:#7a0006"></div>
<div class="t" style="left:806px;top:612px;width:25px;height:24px;background:#420000"></div>
<div class="t" style="left:806px;top:638px;width:25px;height:22px;background:#7a0006"></div>
<div class="t" style="left:806px;top:662px;width:25px;height:20px;background:#420000"></div>
<div class="t" style="left:833px;top:612px;width:22px;height:18px;background:#7a0006"></div>
<div class="t" style="left:856px;top:612px;width:21px;height:18px;background:#044c04"></div>
<div class="t" style="left:878px;top:612px;width:19px;height:18px;background:#1e7d04"></div>
<div class="t" style="left:833px;top:632px;width:20px;height:17px;background:#044c04"></div>
<div class="t" style="left:854px;top:632px;width:21px;height:13px;background:#2dd60b"></div>
<div class="t" style="left:877px;top:632px;width:20px;height:13px;background:#044c04"></div>
<div class="t" style="left:833px;top:650px;width:20px;height:16px;background:#420000"></div>
<div class="t" style="left:833px;top:668px;width:20px;height:14px;background:#1e7d04"></div>
<div class="t" style="left:854px;top:646px;width:14px;height:19px;background:#7a0006"></div>
<div class="t" style="left:854px;top:666px;width:14px;height:16px;background:#420000"></div>
<div class="t" style="left:870px;top:646px;width:13px;height:16px;background:#1e7d04"></div>
<div class="t" style="left:885px;top:646px;width:12px;height:16px;background:#7a0006"></div>
<div class="t" style="left:870px;top:664px;width:10px;height:12px;background:#7a0006"></div>
<div class="t" style="left:870px;top:678px;width:10px;height:4px;background:#7a0006"></div>
<div class="t" style="left:882px;top:664px;width:7px;height:7px;background:#420000"></div>
<div class="t" style="left:890px;top:664px;width:7px;height:7px;background:#044c04"></div>
<div class="t" style="left:882px;top:672px;width:9px;height:5px;background:#044c04"></div>
<div class="t" style="left:893px;top:672px;width:4px;height:5px;background:#420000"></div>
<div class="t" style="left:882px;top:678px;width:9px;height:4px;background:#044c04"></div>
<div class="t" style="left:893px;top:678px;width:4px;height:4px;background:#b0000c"></div>
<div class="t" style="left:901px;top:31px;width:122px;height:78px;background:#1e7d04"><div class="l" style="font-size:11.5px;transform:translate(-10.5px,2.65px)"><div>شبندر</div><div style="font-size:12.65px">1.98%</div></div></div>
<div class="t" style="left:901px;top:110px;width:122px;height:64px;background:#044c04"><div class="l" style="font-size:10px;transform:translate(-10.5px,2.5px)"><div>شهنا</div><div style="font-size:11.0px">0.49%</div></div></div>
<div class="t" style="left:1025px;top:31px;width:111px;height:69px;background:#044c04"><div class="l" style="font-size:10px;transform:translate(-10.5px,2.5px)"><div>شتران</div><div style="font-size:11.0px">0.62%</div></div></div>
<div class="t" style="left:1025px;top:102px;width:58px;height:37px;background:#420000"><div class="l" style="font-size:11.61px;transform:translateX(-1.5px)">شبهرن</div></div>
<div class="t" style="left:1025px;top:140px;width:58px;height:34px;background:#044c04"><div class="l" style="font-size:11.61px;transform:translateX(-1.5px)">شاوان</div></div>
<div class="t" style="left:1085px;top:102px;width:51px;height:26px;background:#044c04"><div class="l" style="font-size:11.61px;transform:translateX(-1.5px)">شبريز</div></div>
<div class="t" style="left:1085px;top:130px;width:27px;height:25px;background:#7a0006"></div>
<div class="t" style="left:1085px;top:157px;width:27px;height:17px;background:#b0000c"></div>
<div class="t" style="left:1114px;top:130px;width:22px;height:19px;background:#7a0006"></div>
<div class="t" style="left:1114px;top:151px;width:10px;height:16px;background:#044c04"></div>
<div class="t" style="left:1126px;top:151px;width:10px;height:16px;background:#420000"></div>
<div class="t" style="left:1114px;top:169px;width:22px;height:5px;background:#7a0006"></div>
<div class="t" style="left:1140px;top:31px;width:59px;height:79px;background:#2dd60b"><div class="l" style="font-size:5px;transform:translate(-10.5px,2.0px)"><div>دتوليد</div><div style="font-size:5.5px">3.31%</div></div></div>
<div class="t" style="left:1140px;top:112px;width:59px;height:62px;background:#1e7d04"><div class="l" style="font-size:5px;transform:translate(-10.5px,2.0px)"><div>دكيمي</div><div style="font-size:5.5px">1.28%</div></div></div>
<div class="t k" style="left:1200px;top:31px;width:47px;height:73px;background:#33ff00"><div class="l" style="font-size:5px;transform:translate(-10.5px,2.0px)"><div>ركي</div><div style="font-size:5.5px">4.76%</div></div></div>
<div class="t" style="left:1200px;top:106px;width:47px;height:40px;background:#da0010"><div class="l" style="font-size:12.9px;transform:translateX(-1.5px)">بركت</div></div>
<div class="t" style="left:1200px;top:148px;width:47px;height:26px;background:#7a0006"><div class="l" style="font-size:12.47px;transform:translateX(-1.5px)">ريشمك</div></div>
<div class="t" style="left:1249px;top:31px;width:35px;height:29px;background:#420000"><div class="l" style="font-size:10.75px;transform:translateX(-1.5px)">دام...</div></div>
<div class="t" style="left:1285px;top:31px;width:33px;height:29px;background:#044c04"><div class="l" style="font-size:10.75px;transform:translateX(-1.5px)">دفارا</div></div>
<div class="t" style="left:1319px;top:31px;width:25px;height:29px;background:#044c04"><div class="l" style="font-size:10.75px;transform:translateX(-1.5px)">دلر</div></div>
<div class="t" style="left:1345px;top:31px;width:23px;height:29px;background:#7a0006"><div class="l" style="font-size:10.75px;transform:translateX(-1.5px)">ه...</div></div>
<div class="t" style="left:1249px;top:63px;width:24px;height:27px;background:#b0000c"></div>
<div class="t" style="left:1249px;top:92px;width:24px;height:27px;background:#b0000c"><div class="l" style="font-size:10.75px;transform:translateX(-1.5px)">د...</div></div>
<div class="t" style="left:1249px;top:122px;width:24px;height:25px;background:#7a0006"><div class="l" style="font-size:10.75px;transform:translateX(-1.5px)">د...</div></div>
<div class="t" style="left:1249px;top:149px;width:24px;height:25px;background:#420000"></div>
<div class="t" style="left:1274px;top:63px;width:22px;height:25px;background:#044c04"><div class="l" style="font-size:10.75px;transform:translateX(-1.5px)">د...</div></div>
<div class="t" style="left:1298px;top:63px;width:22px;height:25px;background:#ff0011"><div class="l" style="font-size:10.75px;transform:translateX(-1.5px)">د...</div></div>
<div class="t" style="left:1322px;top:63px;width:22px;height:25px;background:#420000"></div>
<div class="t" style="left:1346px;top:63px;width:22px;height:25px;background:#da0010"><div class="l" style="font-size:10.75px;transform:translateX(-1.5px)">د...</div></div>
<div class="t" style="left:1274px;top:90px;width:24px;height:23px;background:#044c04"><div class="l" style="font-size:10.75px;transform:translateX(-1.5px)">د...</div></div>
<div class="t" style="left:1299px;top:90px;width:23px;height:18px;background:#7a0006"></div>
<div class="t" style="left:1324px;top:90px;width:21px;height:18px;background:#420000"></div>
<div class="t" style="left:1347px;top:90px;width:21px;height:18px;background:#420000"></div>
<div class="t" style="left:1274px;top:114px;width:24px;height:20px;background:#420000"></div>
<div class="t" style="left:1274px;top:136px;width:24px;height:18px;background:#420000"></div>
<div class="t" style="left:1274px;top:156px;width:24px;height:18px;background:#7a0006"></div>
<div class="t" style="left:1299px;top:110px;width:17px;height:21px;background:#044c04"></div>
<div class="t" style="left:1299px;top:133px;width:17px;height:21px;background:#420000"></div>
<div class="t" style="left:1299px;top:156px;width:17px;height:18px;background:#044c04"></div>
<div class="t" style="left:1318px;top:110px;width:18px;height:17px;background:#044c04"></div>
<div class="t" style="left:1338px;top:110px;width:14px;height:17px;background:#420000"></div>
<div class="t" style="left:1354px;top:110px;width:14px;height:17px;background:#1e7d04"></div>
<div class="t" style="left:1318px;top:129px;width:15px;height:15px;background:#420000"></div>
<div class="t" style="left:1335px;top:129px;width:15px;height:12px;background:#da0010"></div>
<div class="t" style="left:1352px;top:129px;width:16px;height:12px;background:#7a0006"></div>
<div class="t" style="left:1318px;top:146px;width:15px;height:13px;background:#420000"></div>
<div class="t" style="left:1318px;top:161px;width:15px;height:13px;background:#420000"></div>
<div class="t" style="left:1335px;top:143px;width:11px;height:15px;background:#420000"></div>
<div class="t" style="left:1348px;top:143px;width:10px;height:15px;background:#044c04"></div>
<div class="t" style="left:1360px;top:143px;width:8px;height:15px;background:#7a0006"></div>
<div class="t" style="left:1335px;top:160px;width:11px;height:14px;background:#420000"></div>
<div class="t" style="left:1348px;top:160px;width:10px;height:14px;background:#044c04"></div>
<div class="t" style="left:1360px;top:160px;width:8px;height:5px;background:#b0000c"></div>
<div class="t" style="left:1360px;top:166px;width:4px;height:8px;background:#7a0006"></div>
<div class="t" style="left:1365px;top:166px;width:3px;height:8px;background:#044c04"></div>
<div class="t k" style="left:1371px;top:31px;width:98px;height:143px;background:#33ff00"><div class="l" style="font-size:15.5px;transform:translate(-10.5px,3.05px)"><div>كمرجان</div><div style="font-size:17.05px">6.98%</div></div></div>
<div class="t" style="left:1470px;top:31px;width:46px;height:56px;background:#da0010"><div class="l" style="font-size:11.61px;transform:translateX(-1.5px)">كسرام</div></div>
<div class="t" style="left:1518px;top:31px;width:45px;height:56px;background:#420000"><div class="l" style="font-size:11.61px;transform:translateX(-1.5px)">كسرا</div></div>
<div class="t" style="left:1470px;top:88px;width:29px;height:45px;background:#420000"><div class="l" style="font-size:11.61px;transform:translateX(-1.5px)">ك...</div></div>
<div class="t" style="left:1470px;top:134px;width:29px;height:40px;background:#b0000c"><div class="l" style="font-size:11.61px;transform:translateX(-1.5px)">كگاز</div></div>
<div class="t" style="left:1500px;top:88px;width:33px;height:31px;background:#420000"><div class="l" style="font-size:10.75px;transform:translateX(-1.5px)">ك...</div></div>
<div class="t" style="left:1534px;top:88px;width:29px;height:31px;background:#044c04"><div class="l" style="font-size:10.75px;transform:translateX(-1.5px)">ك...</div></div>
<div class="t" style="left:1500px;top:120px;width:30px;height:27px;background:#420000"><div class="l" style="font-size:10.75px;transform:translateX(-1.5px)">كخ...</div></div>
<div class="t" style="left:1500px;top:149px;width:30px;height:25px;background:#420000"><div class="l" style="font-size:10.75px;transform:translateX(-1.5px)">كه...</div></div>
<div class="t" style="left:1532px;top:120px;width:31px;height:20px;background:#420000"></div>
<div class="t" style="left:1532px;top:141px;width:19px;height:23px;background:#044c04"></div>
<div class="t" style="left:1553px;top:141px;width:10px;height:23px;background:#7a0006"></div>
<div class="t" style="left:1532px;top:166px;width:23px;height:8px;background:#044c04"></div>
<div class="t" style="left:1556px;top:166px;width:7px;height:8px;background:#ff0011"></div>
<div class="t k" style="left:901px;top:198px;width:99px;height:162px;background:#33ff00"><div class="l" style="font-size:17.5px;transform:translate(-10.5px,3.25px)"><div>نخريس</div><div style="font-size:19.25px">4.99%</div></div></div>
<div class="t" style="left:1001px;top:198px;width:68px;height:159px;background:#ff0011"><div class="l" style="font-size:11.5px;transform:translate(-10.5px,2.65px)"><div>نطرين</div><div style="font-size:12.65px">-6.98%</div></div></div>
<div class="t" style="left:1001px;top:358px;width:68px;height:2px;background:#044c04"></div>
<div class="t" style="left:1072px;top:198px;width:58px;height:113px;background:#ff0011"><div class="l" style="font-size:8px;transform:translate(-10.5px,2.3px)"><div>زماهان</div><div style="font-size:8.8px">-6.96%</div></div></div>
<div class="t k" style="left:1132px;top:198px;width:43px;height:60px;background:#33ff00"><div class="l" style="font-size:12.9px;transform:translateX(-1.5px)">زكوثر</div></div>
<div class="t" style="left:1132px;top:259px;width:43px;height:52px;background:#da0010"><div class="l" style="font-size:12.9px;transform:translateX(-1.5px)">سيمرغ</div></div>
<div class="t" style="left:1176px;top:198px;width:39px;height:27px;background:#da0010"><div class="l" style="font-size:10.75px;transform:translateX(-1.5px)">زشر...</div></div>
<div class="t k" style="left:1216px;top:198px;width:38px;height:27px;background:#33ff00"><div class="l" style="font-size:10.75px;transform:translateX(-1.5px)">زبار...</div></div>
<div class="t" style="left:1176px;top:227px;width:26px;height:30px;background:#7a0006"><div class="l" style="font-size:10.75px;transform:translateX(-1.5px)">ز...</div></div>
<div class="t" style="left:1204px;top:227px;width:26px;height:30px;background:#b0000c"><div class="l" style="font-size:10.75px;transform:translateX(-1.5px)">ز...</div></div>
<div class="t" style="left:1232px;top:227px;width:22px;height:30px;background:#044c04"><div class="l" style="font-size:10.75px;transform:translateX(-1.5px)">ز...</div></div>
<div class="t" style="left:1176px;top:259px;width:26px;height:25px;background:#b0000c"><div class="l" style="font-size:10.75px;transform:translateX(-1.5px)">زفكا</div></div>
<div class="t" style="left:1176px;top:286px;width:26px;height:25px;background:#b0000c"></div>
<div class="t" style="left:1204px;top:259px;width:25px;height:24px;background:#7a0006"><div class="l" style="font-size:10.75px;transform:translateX(-1.5px)">ز...</div></div>
<div class="t" style="left:1231px;top:259px;width:23px;height:24px;background:#b0000c"><div class="l" style="font-size:10.75px;transform:translateX(-1.5px)">ز...</div></div>
<div class="t" style="left:1204px;top:285px;width:18px;height:26px;background:#044c04"></div>
<div class="t" style="left:1224px;top:285px;width:12px;height:26px;background:#420000"></div>
<div class="t" style="left:1238px;top:285px;width:16px;height:13px;background:#7a0006"></div>
<div class="t" style="left:1238px;top:300px;width:16px;height:11px;background:#7a0006"></div>
<div class="t" style="left:1258px;top:198px;width:66px;height:62px;background:#7a0006"><div class="l" style="font-size:5.5px;transform:translate(-10.5px,2.05px)"><div>حفارس</div><div style="font-size:6.05px">-1.24%</div></div></div>
<div class="t" style="left:1258px;top:262px;width:66px;height:49px;background:#420000"><div class="l" style="font-size:5px;transform:translate(-10.5px,2.0px)"><div>حافرين</div><div style="font-size:5.5px">-0.2%</div></div></div>
<div class="t" style="left:1326px;top:198px;width:52px;height:42px;background:#420000"><div class="l" style="font-size:12.47px;transform:translateX(-1.5px)">حكشتي</div></div>
<div class="t" style="left:1380px;top:198px;width:30px;height:42px;background:#420000"><div class="l" style="font-size:11.61px;transform:translateX(-1.5px)">ح...</div></div>
<div class="t" style="left:1326px;top:243px;width:30px;height:33px;background:#b0000c"><div class="l" style="font-size:11.61px;transform:translateX(-1.5px)">تو...</div></div>
<div class="t" style="left:1326px;top:278px;width:30px;height:33px;background:#da0010"><div class="l" style="font-size:12.47px;transform:translateX(-1.5px)">حآسا</div></div>
<div class="t" style="left:1358px;top:243px;width:31px;height:29px;background:#1e7d04"><div class="l" style="font-size:11.61px;transform:translateX(-1.5px)">حتايد</div></div>
<div class="t" style="left:1390px;top:243px;width:20px;height:29px;background:#22a705"></div>
<div class="t" style="left:1358px;top:274px;width:25px;height:20px;background:#7a0006"></div>
<div class="t" style="left:1358px;top:296px;width:25px;height:15px;background:#420000"></div>
<div class="t" style="left:1385px;top:274px;width:25px;height:13px;background:#420000"></div>
<div class="t" style="left:1385px;top:289px;width:11px;height:22px;background:#420000"></div>
<div class="t" style="left:1398px;top:289px;width:12px;height:11px;background:#7a0006"></div>
<div class="t" style="left:1398px;top:301px;width:12px;height:10px;background:#420000"></div>
<div class="t" style="left:1414px;top:198px;width:46px;height:75px;background:#044c04"><div class="l" style="font-size:4.5px;transform:translate(-10.5px,1.95px)"><div>بيما</div><div style="font-size:4.95px">0.9%</div></div></div>
<div class="t" style="left:1414px;top:275px;width:46px;height:36px;background:#044c04"><div class="l" style="font-size:11.61px;transform:translateX(-1.5px)">بپاس</div></div>
<div class="t" style="left:1462px;top:198px;width:35px;height:45px;background:#22a705"><div class="l" style="font-size:12.47px;transform:translateX(-1.5px)">ودي</div></div>
<div class="t" style="left:1499px;top:198px;width:32px;height:45px;background:#420000"><div class="l" style="font-size:12.47px;transform:translateX(-1.5px)">كوثر</div></div>
<div class="t k" style="left:1533px;top:198px;width:30px;height:45px;background:#33ff00"><div class="l" style="font-size:12.47px;transform:translateX(-1.5px)">ما</div></div>
<div class="t" style="left:1462px;top:245px;width:29px;height:35px;background:#ff0011"><div class="l" style="font-size:11.61px;transform:translateX(-1.5px)">م...</div></div>
<div class="t k" style="left:1462px;top:281px;width:29px;height:30px;background:#2dd60b"><div class="l" style="font-size:11.61px;transform:translateX(-1.5px)">و...</div></div>
<div class="t" style="left:1493px;top:245px;width:21px;height:37px;background:#7a0006"></div>
<div class="t" style="left:1493px;top:284px;width:21px;height:27px;background:#da0010"></div>
<div class="t" style="left:1516px;top:245px;width:23px;height:21px;background:#22a705"></div>
<div class="t" style="left:1541px;top:245px;width:22px;height:21px;background:#420000"></div>
<div class="t" style="left:1516px;top:267px;width:18px;height:23px;background:#7a0006"></div>
<div class="t" style="left:1516px;top:291px;width:18px;height:20px;background:#2dd60b"></div>
<div class="t" style="left:1535px;top:267px;width:13px;height:18px;background:#044c04"></div>
<div class="t" style="left:1550px;top:267px;width:13px;height:18px;background:#1e7d04"></div>
<div class="t" style="left:1535px;top:287px;width:17px;height:12px;background:#b0000c"></div>
<div class="t" style="left:1535px;top:301px;width:17px;height:10px;background:#7a0006"></div>
<div class="t" style="left:1554px;top:287px;width:9px;height:16px;background:#044c04"></div>
<div class="t" style="left:1554px;top:304px;width:9px;height:7px;background:#044c04"></div>
<div class="t" style="left:901px;top:383px;width:79px;height:138px;background:#22a705"><div class="l" style="font-size:12.5px;transform:translate(-10.5px,2.75px)"><div>انتخاب</div><div style="font-size:13.75px">2.05%</div></div></div>
<div class="t k" style="left:982px;top:383px;width:87px;height:49px;background:#33ff00"><div class="l" style="font-size:5px;transform:translate(-10.5px,2.0px)"><div>تكمبا</div><div style="font-size:5.5px">6.90%</div></div></div>
<div class="t" style="left:982px;top:434px;width:48px;height:36px;background:#1e7d04"><div class="l" style="font-size:11.61px;transform:translateX(-1.5px)">لبوتان</div></div>
<div class="t" style="left:1032px;top:434px;width:37px;height:36px;background:#1e7d04"><div class="l" style="font-size:11.61px;transform:translateX(-1.5px)">گلديرا</div></div>
<div class="t" style="left:982px;top:471px;width:25px;height:50px;background:#420000"><div class="l" style="font-size:11.61px;transform:translateX(-1.5px)">تايرا</div></div>
<div class="t" style="left:1008px;top:471px;width:30px;height:26px;background:#7a0006"><div class="l" style="font-size:11.61px;transform:translateX(-1.5px)">تكنو</div></div>
<div class="t" style="left:1008px;top:498px;width:30px;height:23px;background:#b0000c"><div class="l" style="font-size:11.61px;transform:translateX(-1.5px)">ل...</div></div>
<div class="t" style="left:1040px;top:471px;width:29px;height:18px;background:#7a0006"></div>
<div class="t" style="left:1040px;top:491px;width:29px;height:17px;background:#7a0006"></div>
<div class="t" style="left:1040px;top:510px;width:14px;height:11px;background:#044c04"></div>
<div class="t" style="left:1056px;top:510px;width:13px;height:11px;background:#044c04"></div>
<div class="t" style="left:901px;top:545px;width:77px;height:83px;background:#420000"><div class="l" style="font-size:8px;transform:translate(-10.5px,2.3px)"><div>وپارس</div><div style="font-size:8.8px">-0.16%</div></div></div>
<div class="t" style="left:901px;top:630px;width:77px;height:52px;background:#420000"><div class="l" style="font-size:5px;transform:translate(-10.5px,2.0px)"><div>وتجارت</div><div style="font-size:5.5px">-0.27%</div></div></div>
<div class="t" style="left:980px;top:545px;width:45px;height:62px;background:#420000"><div class="l" style="font-size:12.04px;transform:translateX(-1.5px)">وبصادر</div></div>
<div class="t" style="left:1027px;top:545px;width:42px;height:62px;background:#420000"><div class="l" style="font-size:12.04px;transform:translateX(-1.5px)">ونوين</div></div>
<div class="t" style="left:980px;top:609px;width:42px;height:44px;background:#044c04"><div class="l" style="font-size:12.04px;transform:translateX(-1.5px)">وپاسار</div></div>
<div class="t" style="left:980px;top:655px;width:42px;height:27px;background:#7a0006"><div class="l" style="font-size:11.61px;transform:translateX(-1.5px)">وخاور</div></div>
<div class="t" style="left:1024px;top:609px;width:45px;height:24px;background:#420000"><div class="l" style="font-size:11.61px;transform:translateX(-1.5px)">سامان</div></div>
<div class="t" style="left:1024px;top:635px;width:26px;height:28px;background:#420000"><div class="l" style="font-size:10.75px;transform:translateX(-1.5px)">و...</div></div>
<div class="t" style="left:1052px;top:635px;width:17px;height:28px;background:#420000"></div>
<div class="t" style="left:1024px;top:665px;width:23px;height:17px;background:#420000"></div>
<div class="t" style="left:1049px;top:665px;width:15px;height:17px;background:#22a705"></div>
<div class="t" style="left:1065px;top:665px;width:4px;height:17px;background:#7a0006"></div>
<div class="t" style="left:1072px;top:334px;width:84px;height:63px;background:#1e7d04"><div class="l" style="font-size:6.5px;transform:translate(-10.5px,2.15px)"><div>بزاگرس</div><div style="font-size:7.15px">1.85%</div></div></div>
<div class="t" style="left:1072px;top:399px;width:85px;height:45px;background:#22a705"><div class="l" style="font-size:5px;transform:translate(-10.5px,2.0px)"><div>بتهران</div><div style="font-size:5.5px">2.25%</div></div></div>
<div class="t k" style="left:1158px;top:334px;width:59px;height:33px;background:#2dd60b"><div class="l" style="font-size:11.61px;transform:translateX(-1.5px)">بجهرم</div></div>
<div class="t" style="left:1158px;top:368px;width:29px;height:36px;background:#420000"><div class="l" style="font-size:11.61px;transform:translateX(-1.5px)">دم...</div></div>
<div class="t" style="left:1189px;top:368px;width:28px;height:36px;background:#7a0006"><div class="l" style="font-size:11.61px;transform:translateX(-1.5px)">بم...</div></div>
<div class="t" style="left:1158px;top:406px;width:21px;height:18px;background:#7a0006"></div>
<div class="t" style="left:1180px;top:406px;width:22px;height:17px;background:#420000"></div>
<div class="t" style="left:1203px;top:406px;width:14px;height:17px;background:#420000"></div>
<div class="t" style="left:1158px;top:425px;width:21px;height:19px;background:#7a0006"></div>
<div class="t" style="left:1180px;top:424px;width:12px;height:20px;background:#420000"></div>
<div class="t" style="left:1194px;top:424px;width:15px;height:10px;background:#22a705"></div>
<div class="t" style="left:1194px;top:436px;width:15px;height:8px;background:#044c04"></div>
<div class="t" style="left:1211px;top:424px;width:6px;height:20px;background:#7a0006"></div>
<div class="t" style="left:1072px;top:468px;width:56px;height:98px;background:#420000"><div class="l" style="font-size:6px;transform:translate(-10.5px,2.1px)"><div>شمبنا</div><div style="font-size:6.6px">-0.32%</div></div></div>
<div class="t" style="left:1129px;top:468px;width:59px;height:54px;background:#420000"><div class="l" style="font-size:4.5px;transform:translate(-10.5px,1.95px)"><div>وپويا</div><div style="font-size:4.95px">-0.36%</div></div></div>
<div class="t" style="left:1190px;top:468px;width:27px;height:54px;background:#420000"><div class="l" style="font-size:11.61px;transform:translateX(-1.5px)">و...</div></div>
<div class="t" style="left:1129px;top:524px;width:29px;height:42px;background:#420000"><div class="l" style="font-size:11.61px;transform:translateX(-1.5px)">وا...</div></div>
<div class="t" style="left:1160px;top:524px;width:26px;height:42px;background:#420000"><div class="l" style="font-size:11.61px;transform:translateX(-1.5px)">و...</div></div>
<div class="t" style="left:1188px;top:524px;width:29px;height:27px;background:#420000"><div class="l" style="font-size:10.75px;transform:translateX(-1.5px)">وبا...</div></div>
<div class="t" style="left:1188px;top:553px;width:29px;height:13px;background:#420000"></div>
<div class="t" style="left:1072px;top:589px;width:76px;height:47px;background:#044c04"><div class="l" style="font-size:4.5px;transform:translate(-10.5px,1.95px)"><div>فرابورس</div><div style="font-size:4.95px">0.24%</div></div></div>
<div class="t" style="left:1072px;top:638px;width:76px;height:44px;background:#7a0006"><div class="l" style="font-size:4.5px;transform:translate(-10.5px,1.95px)"><div>سك</div><div style="font-size:4.95px">-1.37%</div></div></div>
<div class="t" style="left:1150px;top:589px;width:67px;height:34px;background:#420000"><div class="l" style="font-size:12.47px;transform:translateX(-1.5px)">بورس</div></div>
<div class="t" style="left:1150px;top:625px;width:39px;height:57px;background:#7a0006"><div class="l" style="font-size:12.47px;transform:translateX(-1.5px)">انرژي</div></div>
<div class="t" style="left:1191px;top:625px;width:26px;height:18px;background:#7a0006"></div>
<div class="t" style="left:1191px;top:645px;width:12px;height:21px;background:#420000"></div>
<div class="t" style="left:1205px;top:645px;width:12px;height:21px;background:#044c04"></div>
<div class="t" style="left:1191px;top:668px;width:14px;height:14px;background:#044c04"></div>
<div class="t" style="left:1206px;top:668px;width:11px;height:6px;background:#1e7d04"></div>
<div class="t" style="left:1206px;top:676px;width:5px;height:6px;background:#420000"></div>
<div class="t" style="left:1213px;top:676px;width:4px;height:6px;background:#1e7d04"></div>
<div class="t" style="left:1221px;top:334px;width:36px;height:46px;background:#22a705"><div class="l" style="font-size:12.04px;transform:translateX(-1.5px)">افرا</div></div>
<div class="t k" style="left:1221px;top:382px;width:36px;height:38px;background:#2dd60b"><div class="l" style="font-size:12.04px;transform:translateX(-1.5px)">تيسي</div></div>
<div class="t" style="left:1259px;top:334px;width:39px;height:28px;background:#da0010"><div class="l" style="font-size:12.04px;transform:translateX(-1.5px)">ركيش</div></div>
<div class="t" style="left:1299px;top:334px;width:29px;height:27px;background:#044c04"><div class="l" style="font-size:11.61px;transform:translateX(-1.5px)">تا...</div></div>
<div class="t" style="left:1330px;top:334px;width:29px;height:27px;background:#da0010"><div class="l" style="font-size:11.61px;transform:translateX(-1.5px)">م...</div></div>
<div class="t" style="left:1259px;top:364px;width:39px;height:28px;background:#044c04"><div class="l" style="font-size:12.04px;transform:translateX(-1.5px)">پي پاد</div></div>
<div class="t" style="left:1259px;top:393px;width:39px;height:27px;background:#1e7d04"><div class="l" style="font-size:12.04px;transform:translateX(-1.5px)">توسن</div></div>
<div class="t" style="left:1299px;top:363px;width:26px;height:30px;background:#044c04"></div>
<div class="t" style="left:1299px;top:394px;width:26px;height:26px;background:#7a0006"><div class="l" style="font-size:12.04px;transform:translateX(-1.5px)">آپ</div></div>
<div class="t" style="left:1326px;top:363px;width:33px;height:17px;background:#044c04"></div>
<div class="t" style="left:1326px;top:382px;width:33px;height:16px;background:#b0000c"></div>
<div class="t" style="left:1326px;top:400px;width:15px;height:20px;background:#b0000c"></div>
<div class="t" style="left:1342px;top:400px;width:9px;height:11px;background:#044c04"></div>
<div class="t" style="left:1352px;top:400px;width:7px;height:11px;background:#420000"></div>
<div class="t" style="left:1342px;top:412px;width:9px;height:8px;background:#044c04"></div>
<div class="t" style="left:1353px;top:412px;width:6px;height:8px;background:#b0000c"></div>
<div class="t" style="left:1363px;top:334px;width:63px;height:54px;background:#22a705"><div class="l" style="font-size:5px;transform:translate(-10.5px,2.0px)"><div>بكاب</div><div style="font-size:5.5px">2.44%</div></div></div>
<div class="t" style="left:1363px;top:389px;width:63px;height:31px;background:#b0000c"><div class="l" style="font-size:12.47px;transform:translateX(-1.5px)">بالبر</div></div>
<div class="t" style="left:1428px;top:334px;width:45px;height:36px;background:#b0000c"><div class="l" style="font-size:12.47px;transform:translateX(-1.5px)">بكام</div></div>
<div class="t" style="left:1428px;top:372px;width:22px;height:32px;background:#420000"></div>
<div class="t" style="left:1452px;top:372px;width:21px;height:32px;background:#420000"></div>
<div class="t" style="left:1428px;top:406px;width:16px;height:14px;background:#7a0006"></div>
<div class="t" style="left:1446px;top:406px;width:13px;height:14px;background:#b0000c"></div>
<div class="t" style="left:1461px;top:406px;width:12px;height:6px;background:#7a0006"></div>
<div class="t" style="left:1461px;top:414px;width:12px;height:6px;background:#420000"></div>
<div class="t" style="left:1477px;top:334px;width:50px;height:45px;background:#7a0006"><div class="l" style="font-size:12.47px;transform:translateX(-1.5px)">فاذر</div></div>
<div class="t k" style="left:1529px;top:334px;width:34px;height:45px;background:#33ff00"><div class="l" style="font-size:12.47px;transform:translateX(-1.5px)">فجام</div></div>
<div class="t" style="left:1477px;top:381px;width:50px;height:39px;background:#7a0006"><div class="l" style="font-size:12.47px;transform:translateX(-1.5px)">فاراك</div></div>
<div class="t" style="left:1529px;top:381px;width:34px;height:18px;background:#7a0006"></div>
<div class="t" style="left:1529px;top:401px;width:26px;height:19px;background:#420000"></div>
<div class="t" style="left:1556px;top:401px;width:7px;height:19px;background:#7a0006"></div>
<div class="t k" style="left:1221px;top:443px;width:36px;height:43px;background:#33ff00"><div class="l" style="font-size:12.04px;transform:translateX(-1.5px)">پارتا</div></div>
<div class="t" style="left:1221px;top:488px;width:36px;height:26px;background:#420000"><div class="l" style="font-size:11.61px;transform:translateX(-1.5px)">پتاير</div></div>
<div class="t" style="left:1259px;top:443px;width:31px;height:31px;background:#b0000c"><div class="l" style="font-size:11.61px;transform:translateX(-1.5px)">يك...</div></div>
<div class="t" style="left:1292px;top:443px;width:27px;height:31px;background:#420000"><div class="l" style="font-size:11.61px;transform:translateX(-1.5px)">پ...</div></div>
<div class="t" style="left:1259px;top:475px;width:33px;height:19px;background:#420000"></div>
<div class="t" style="left:1259px;top:496px;width:33px;height:18px;background:#420000"></div>
<div class="t" style="left:1293px;top:475px;width:26px;height:16px;background:#044c04"></div>
<div class="t" style="left:1293px;top:493px;width:18px;height:21px;background:#044c04"></div>
<div class="t" style="left:1313px;top:493px;width:6px;height:21px;background:#044c04"></div>
<div class="t" style="left:1323px;top:443px;width:55px;height:37px;background:#420000"><div class="l" style="font-size:12.47px;transform:translateX(-1.5px)">هاي وب</div></div>
<div class="t" style="left:1323px;top:482px;width:55px;height:32px;background:#420000"><div class="l" style="font-size:12.47px;transform:translateX(-1.5px)">اسياتك</div></div>
<div class="t" style="left:1380px;top:443px;width:22px;height:43px;background:#044c04"><div class="l" style="font-size:11.61px;transform:translateX(-1.5px)">ا...</div></div>
<div class="t" style="left:1380px;top:487px;width:22px;height:27px;background:#420000"><div class="l" style="font-size:11.61px;transform:translateX(-1.5px)">ا...</div></div>
<div class="t" style="left:1406px;top:443px;width:43px;height:71px;background:#b0000c"><div class="l" style="font-size:5px;transform:translate(-10.5px,2.0px)"><div>اخابر</div><div style="font-size:5.5px">-2.96%</div></div></div>
<div class="t" style="left:1451px;top:443px;width:32px;height:71px;background:#420000"><div class="l" style="font-size:12.47px;transform:translateX(-1.5px)">هم...</div></div>
<div class="t" style="left:1487px;top:443px;width:63px;height:71px;background:#ff0011"><div class="l" style="font-size:7px;transform:translate(-10.5px,2.2px)"><div>كماسه</div><div style="font-size:7.7px">-5.45%</div></div></div>
<div class="t" style="left:1552px;top:443px;width:11px;height:71px;background:#b0000c"></div>
<div class="t" style="left:1221px;top:537px;width:42px;height:34px;background:#22a705"><div class="l" style="font-size:11.61px;transform:translateX(-1.5px)">ولغدر</div></div>
<div class="t k" style="left:1265px;top:537px;width:28px;height:34px;background:#33ff00"><div class="l" style="font-size:11.61px;transform:translateX(-1.5px)">و...</div></div>
<div class="t" style="left:1295px;top:537px;width:24px;height:34px;background:#044c04"><div class="l" style="font-size:11.61px;transform:translateX(-1.5px)">و...</div></div>
<div class="t k" style="left:1221px;top:572px;width:42px;height:30px;background:#33ff00"><div class="l" style="font-size:11.61px;transform:translateX(-1.5px)">وايران</div></div>
<div class="t" style="left:1265px;top:572px;width:24px;height:30px;background:#7a0006"><div class="l" style="font-size:11.61px;transform:translateX(-1.5px)">و...</div></div>
<div class="t" style="left:1290px;top:572px;width:14px;height:20px;background:#044c04"></div>
<div class="t" style="left:1305px;top:572px;width:14px;height:20px;background:#7a0006"></div>
<div class="t" style="left:1290px;top:593px;width:29px;height:9px;background:#044c04"></div>
<div class="t" style="left:1323px;top:539px;width:47px;height:36px;background:#7a0006"><div class="l" style="font-size:12.47px;transform:translateX(-1.5px)">گدنا</div></div>
<div class="t" style="left:1372px;top:539px;width:23px;height:37px;background:#b0000c"></div>
<div class="t" style="left:1323px;top:577px;width:47px;height:25px;background:#044c04"><div class="l" style="font-size:12.47px;transform:translateX(-1.5px)">گكوثر</div></div>
<div class="t" style="left:1372px;top:578px;width:23px;height:24px;background:#7a0006"><div class="l" style="font-size:11.61px;transform:translateX(-1.5px)">آباد</div></div>
<div class="t" style="left:1221px;top:626px;width:46px;height:31px;background:#da0010"><div class="l" style="font-size:12.47px;transform:translateX(-1.5px)">قنيشا</div></div>
<div class="t" style="left:1221px;top:659px;width:46px;height:23px;background:#b0000c"><div class="l" style="font-size:12.47px;transform:translateX(-1.5px)">قثابت</div></div>
<div class="t" style="left:1269px;top:626px;width:26px;height:25px;background:#7a0006"><div class="l" style="font-size:11.61px;transform:translateX(-1.5px)">ق...</div></div>
<div class="t" style="left:1297px;top:626px;width:22px;height:25px;background:#7a0006"></div>
<div class="t" style="left:1269px;top:653px;width:16px;height:29px;background:#420000"></div>
<div class="t" style="left:1287px;top:653px;width:14px;height:16px;background:#7a0006"></div>
<div class="t" style="left:1287px;top:671px;width:14px;height:11px;background:#b0000c"></div>
<div class="t" style="left:1302px;top:653px;width:17px;height:8px;background:#b0000c"></div>
<div class="t" style="left:1302px;top:663px;width:8px;height:14px;background:#7a0006"></div>
<div class="t" style="left:1312px;top:663px;width:7px;height:14px;background:#7a0006"></div>
<div class="t" style="left:1302px;top:679px;width:17px;height:3px;background:#044c04"></div>
<div class="t k" style="left:1323px;top:626px;width:56px;height:56px;background:#33ff00"><div class="l" style="font-size:4.5px;transform:translate(-10.5px,1.95px)"><div>نكالا</div><div style="font-size:4.95px">4.20%</div></div></div>
<div class="t" style="left:1381px;top:626px;width:14px;height:56px;background:#044c04"></div>
<div class="t" style="left:1398px;top:539px;width:58px;height:36px;background:#ff0011"><div class="l" style="font-size:12.47px;transform:translateX(-1.5px)">چكاوه</div></div>
<div class="t" style="left:1398px;top:577px;width:34px;height:34px;background:#420000"><div class="l" style="font-size:11.61px;transform:translateX(-1.5px)">چكاپا</div></div>
<div class="t" style="left:1434px;top:577px;width:22px;height:25px;background:#b0000c"></div>
<div class="t" style="left:1434px;top:603px;width:22px;height:8px;background:#1e7d04"></div>
<div class="t" style="left:1398px;top:634px;width:30px;height:48px;background:#420000"><div class="l" style="font-size:11.61px;transform:translateX(-1.5px)">ك...</div></div>
<div class="t" style="left:1430px;top:634px;width:26px;height:19px;background:#7a0006"></div>
<div class="t" style="left:1430px;top:655px;width:12px;height:18px;background:#420000"></div>
<div class="t" style="left:1443px;top:655px;width:13px;height:18px;background:#7a0006"></div>
<div class="t" style="left:1430px;top:675px;width:26px;height:7px;background:#420000"></div>
<div class="t" style="left:1459px;top:539px;width:34px;height:24px;background:#da0010"><div class="l" style="font-size:11.61px;transform:translateX(-1.5px)">ك...</div></div>
<div class="t" style="left:1459px;top:564px;width:34px;height:19px;background:#420000"></div>
<div class="t" style="left:1494px;top:539px;width:20px;height:30px;background:#044c04"></div>
<div class="t" style="left:1494px;top:571px;width:20px;height:12px;background:#420000"></div>
<div class="t k" style="left:1517px;top:539px;width:46px;height:44px;background:#33ff00"><div class="l" style="font-size:11.61px;transform:translateX(-1.5px)">حفاري</div></div>
<div class="t" style="left:1459px;top:606px;width:34px;height:30px;background:#b0000c"><div class="l" style="font-size:11.61px;transform:translateX(-1.5px)">چفيبر</div></div>
<div class="t" style="left:1495px;top:606px;width:13px;height:30px;background:#420000"></div>
<div class="t" style="left:1512px;top:606px;width:36px;height:7px;background:#044c04"></div>
<div class="t" style="left:1550px;top:606px;width:13px;height:7px;background:#420000"></div>
<div class="t" style="left:1512px;top:637px;width:51px;height:4px;background:#7a0006"></div>
<div class="t" style="left:1459px;top:659px;width:43px;height:23px;background:#420000"><div class="l" style="font-size:11.61px;transform:translateX(-1.5px)">افق</div></div>
<div class="t" style="left:1504px;top:659px;width:4px;height:23px;background:#7a0006"></div>
<div class="t k" style="left:1512px;top:665px;width:24px;height:17px;background:#33ff00"></div>
<div class="t" style="left:1540px;top:665px;width:23px;height:8px;background:#7a0006"></div>
</body></html>
